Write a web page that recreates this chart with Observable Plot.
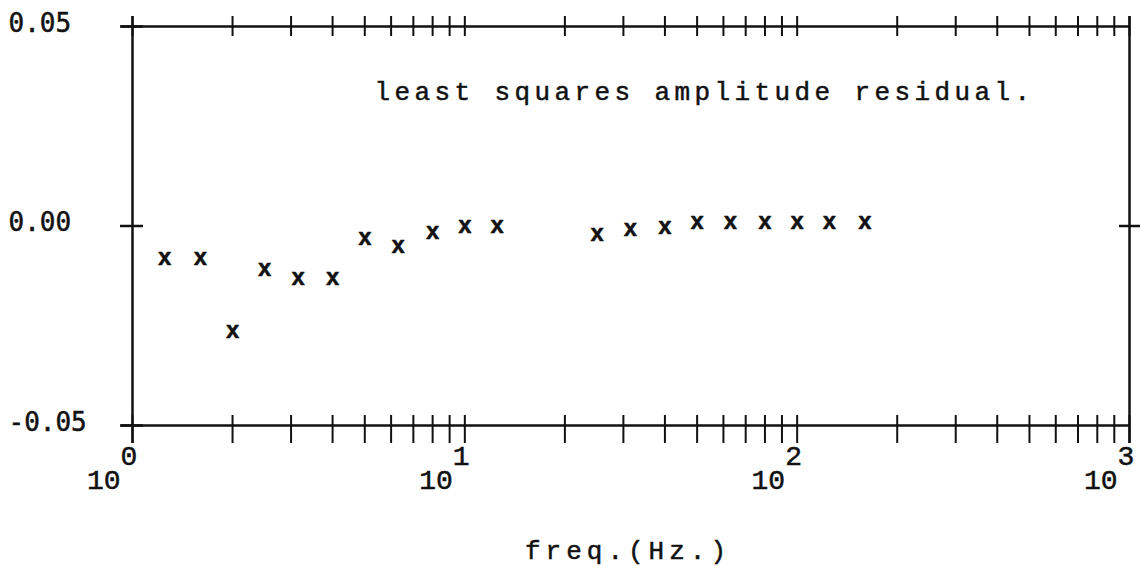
<!DOCTYPE html>
<html><head><meta charset="utf-8">
<script src="https://cdn.jsdelivr.net/npm/d3@7"></script>
<script src="https://cdn.jsdelivr.net/npm/@observablehq/plot@0.6"></script>
<style>body{margin:0;background:#fff}</style>
</head><body><div id="chart"></div>
<script>
const freq = [1.25, 1.6, 2, 2.5, 3.15, 4, 5, 6.3, 8, 10, 12.5, 25, 31.5, 40, 50, 63, 80, 100, 125, 160];
const residual = [-0.0079, -0.0079, -0.0262, -0.0107, -0.0129, -0.0129, -0.0029, -0.0049, -0.0014, 0.0001, 0.0001,
                  -0.0020, -0.0006, -0.0001, 0.0012, 0.0010, 0.0010, 0.0010, 0.0010, 0.0010];
const decades = [1, 10, 100, 1000];
const exponents = ["0", "1", "2", "3"];
const minorTicks = [2, 3, 4, 5, 6, 7, 8, 9, 20, 30, 40, 50, 60, 70, 80, 90, 200, 300, 400, 500, 600, 700, 800, 900];
const yTicks = [-0.05, 0, 0.05];
const yTickLabels = ["-0.05", "0.00", "0.05"];
const title = "least squares amplitude residual.";
const xLabel = "freq.(Hz.)";

const points = freq.map((f, i) => ({f, r: residual[i]}));
const allXTicks = decades.concat(minorTicks);
const ink = "#111";
const mono = "Liberation Mono";
const textInk = {fill: ink, stroke: ink, strokeWidth: 0.5};

const plot = Plot.plot({
  width: 1144, height: 575,
  marginLeft: 132, marginRight: 15, marginTop: 26, marginBottom: 150,
  x: {type: "log", domain: [1, 1000], axis: null},
  y: {type: "linear", domain: [-0.05, 0.05], axis: null},
  style: {background: "#fff", color: "#000", overflow: "visible"},
  marks: [
    // top and bottom axis lines
    Plot.ruleY([0.05, -0.05], {y: d => d, stroke: ink, strokeWidth: 2.5, insetLeft: -11}),
    // left and right axis lines
    Plot.ruleX([1, 1000], {x: d => d, stroke: ink, strokeWidth: 2.5, insetTop: -10, insetBottom: -18}),
    // bottom ticks
    Plot.ruleX(allXTicks, {x: d => d, y1: -0.05, y2: -0.05, insetTop: -10, insetBottom: -18, stroke: ink, strokeWidth: 2}),
    // top ticks
    Plot.ruleX(allXTicks, {x: d => d, y1: 0.05, y2: 0.05, insetTop: -10, insetBottom: -10, stroke: ink, strokeWidth: 2}),
    // left ticks
    Plot.ruleY(yTicks, {y: d => d, x1: 1, x2: 1, insetLeft: -12, insetRight: -11, stroke: ink, strokeWidth: 2.5}),
    // right tick
    Plot.ruleY([0], {y: d => d, x1: 1000, x2: 1000, insetLeft: -10, insetRight: -11, stroke: ink, strokeWidth: 2.5}),
    // data
    Plot.text(points, {x: "f", y: "r", text: () => "x", fontFamily: mono, fontWeight: "bold", fontSize: 23, ...textInk}),
    // y tick labels
    Plot.text(yTicks, {y: d => d, text: (d, i) => yTickLabels[i], frameAnchor: "left", textAnchor: "start",
      dx: -124, dy: -3, fontFamily: "DejaVu Sans Mono", fontSize: 26, ...textInk}),
    // x decade labels
    Plot.text(decades, {x: d => d, text: () => "10", frameAnchor: "bottom", textAnchor: "end",
      dx: -12, dy: 63, fontFamily: mono, fontSize: 28, ...textInk}),
    Plot.text(decades, {x: d => d, text: (d, i) => exponents[i], frameAnchor: "bottom", textAnchor: "start",
      dx: -12, dy: 39, fontFamily: mono, fontSize: 28, ...textInk}),
    // title inside plot
    Plot.text([title], {text: d => d, frameAnchor: "top-left", textAnchor: "start", dx: 242, dy: 55,
      fontFamily: mono, fontSize: 26, ...textInk}),
    // x axis label
    Plot.text([xLabel], {text: d => d, frameAnchor: "bottom", dx: -3, dy: 133,
      fontFamily: mono, fontSize: 26, ...textInk})
  ]
});

d3.select(plot).selectAll("text").each(function() {
  const t = this.textContent;
  if (t === title) d3.select(this).style("letter-spacing", "4.4px");
  if (t === xLabel) d3.select(this).style("letter-spacing", "5px");
});

document.getElementById("chart").append(plot);
</script>
</body></html>
